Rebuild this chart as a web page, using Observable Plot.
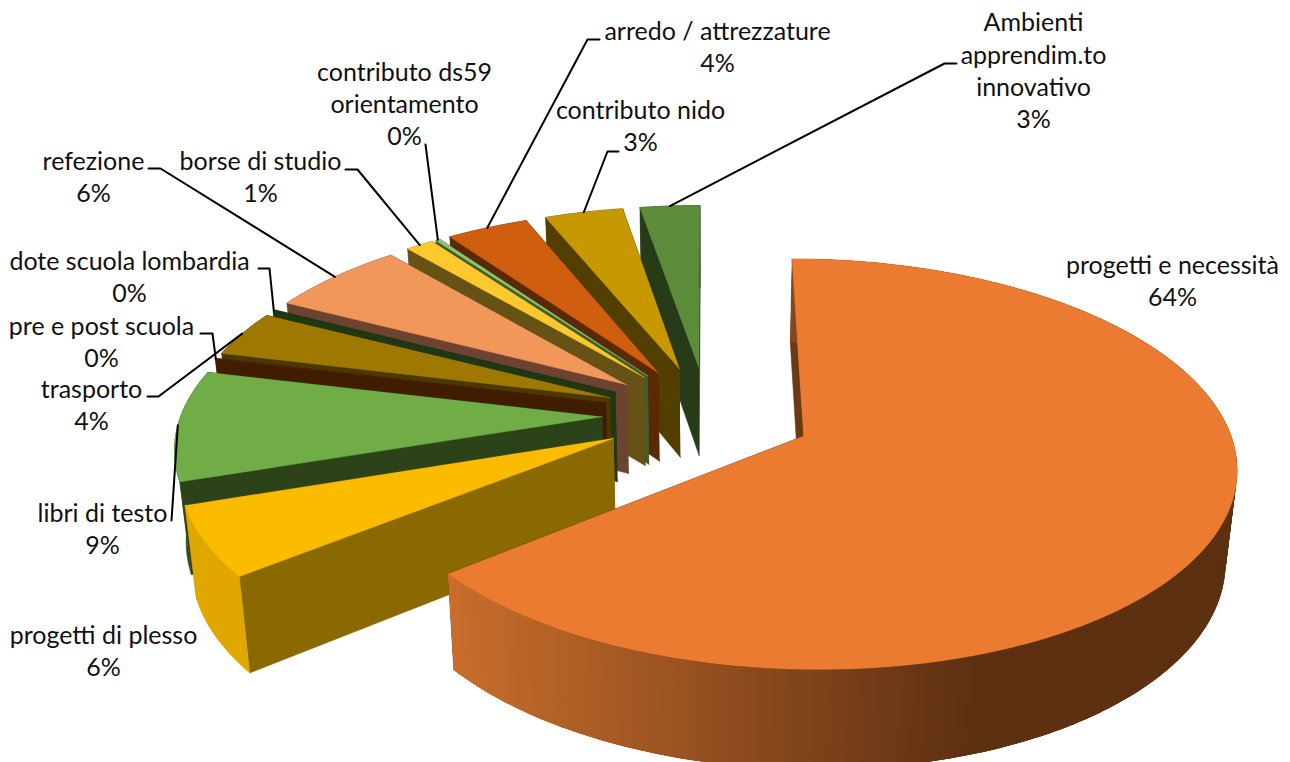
<!DOCTYPE html>
<html><head><meta charset="utf-8">
<script src="https://cdn.jsdelivr.net/npm/d3@7"></script>
<script src="https://cdn.jsdelivr.net/npm/@observablehq/plot@0.6"></script>
<style>html,body{margin:0;padding:0;background:#fff}svg{display:block}</style>
</head><body><div id="chart"></div>
<script>
// ---- data (clockwise from the top of the pie)
const categories = ["progetti e necessità","progetti di plesso","libri di testo","pre e post scuola","trasporto","dote scuola lombardia","refezione","borse di studio","contributo ds59\norientamento","arredo / attrezzature","contributo nido","Ambienti\napprendim.to\ninnovativo"];
const shares = [64.25,5.6,8.9,0.1,3.7,0.1,6.1,1.25,0.2,3.65,3.49,2.66];

// ---- style
const topColors  = ["#EA7B31","#FBBC00","#70AD47","#4A2200","#9E7800","#1F3813","#F1975A","#FFC92D","#8FC56C","#CF5F0E","#C89800","#5C8C3A"];
const sideColors = ["#6B3A15","#8A6900","#2C431A","#401C00","#4A3800","#1F3813","#6B4330","#675216","#3F5E2B","#5A2A06","#523F00","#263B16"];
const rimColors  = [null,"#DFA700","#2C431A","#401C00","#4A3800","#1F3813","#6B4330","#675216","#3F5E2B","#5A2A06","#523F00","#263B16"];

// ---- label layout: text centre, leader stub start and elbow (null = none)
const labelX = [1172,103,102,101,91,129,93,260,404,717,640,1033];
const labelY = [279,649.5,527,340,403,275,175,175,102,45,124.5,69];
const stubX  = [null,null,null,200,147,258,148,345,null,599,618,956];
const elbowX = [null,null,171,212,158,269,160,357,425,587,607,944];
const elbowY = [null,null,520,333,396,268,168,169,144,39,151,63];

// ---- projection of the exploded 3D pie
const W = 1290, H = 762;
const cx = 707, cy = 414, a = 421, b = 195.5, p = 0.135, explode = 0.25, thick = 90, shrink = 0.978;
const total = d3.sum(shares);
const rad = d => d * Math.PI / 180;
function top3(X, Y){ const w = 1 + p * Y; return [cx + a * X / w, cy - b * Y / w, w]; }
function bot3(X, Y){ const [x, y, w] = top3(X, Y); return [cx + (x - cx) * shrink, cy + (y - cy) * shrink + thick / w]; }

let acc = 0;
const slices = shares.map((v, i) => {
  const s = acc / total * 360; acc += v; const e = acc / total * 360; const m = (s + e) / 2;
  return {i, v, s, e, ox: explode * Math.sin(rad(m)), oy: explode * Math.cos(rad(m))};
});
const rimPt = (sl, t) => [sl.ox + Math.sin(rad(t)), sl.oy + Math.cos(rad(t))];
const bigRim = d3.interpolateRgb("#C96E2C", "#5E3012");

const polys = [], gradient = [], bigTop = []; let pid = 0;
function add(list, pts, color){ pid++; for (const [x, y] of pts) list.push({id: pid, x, y, color}); }
const order = [11,10,9,8,7,6,5,4,3,2,1,0];
for (const i of order) {
  const sl = slices[i];
  const n = Math.max(2, Math.ceil(sl.e - sl.s));
  const ts = d3.range(n + 1).map(k => sl.s + (sl.e - sl.s) * k / n);
  const A = [sl.ox, sl.oy], S = rimPt(sl, sl.s), E = rimPt(sl, sl.e);
  const rim = ts.map(t => rimPt(sl, t));
  add(polys, [top3(...A), top3(...E), bot3(...E), bot3(...A)], sideColors[i]);
  add(polys, [top3(...A), top3(...S), bot3(...S), bot3(...A)], sideColors[i]);
  if (i === 0) {
    // painted from the far right end towards the left, each piece reaching under the next
    for (let k = 0; k < n; k++) {
      const far = Math.min(n, k + 3);
      const q = [...rim.slice(k, far + 1).map(r => top3(...r)), ...rim.slice(k, far + 1).reverse().map(r => bot3(...r))];
      const t = Math.max(0, Math.min(1, (q[0][0] - 447) / (978 - 447)));
      add(gradient, q, bigRim(t));
    }
    add(bigTop, [top3(...A), ...rim.map(r => top3(...r))], topColors[i]);
  } else {
    add(polys, [...rim.map(r => top3(...r)), ...rim.slice().reverse().map(r => bot3(...r))], rimColors[i]);
    add(polys, [top3(...A), ...rim.map(r => top3(...r))], topColors[i]);
  }
}

// ---- leaders and labels
const leaders = [];
slices.forEach(sl => {
  const i = sl.i; if (elbowX[i] == null) return;
  const [x, y] = top3(...rimPt(sl, (sl.s + sl.e) / 2));
  if (stubX[i] != null) leaders.push({id: i, x: stubX[i], y: elbowY[i]});
  leaders.push({id: i, x: elbowX[i], y: elbowY[i]}, {id: i, x, y});
});
const labels = slices.map(sl => ({
  text: categories[sl.i] + "\n" + Math.round(sl.v) + "%", x: labelX[sl.i], y: labelY[sl.i]
}));

const chart = Plot.plot({
  width: W, height: H, margin: 0,
  x: {domain: [0, W], range: [0, W], axis: null},
  y: {domain: [0, H], range: [0, H], axis: null},
  color: {type: "identity"},
  marks: [
    Plot.line(polys, {x: "x", y: "y", z: "id", fill: "color", stroke: "color", strokeWidth: 0.6, curve: "linear"}),
    Plot.line(gradient, {x: "x", y: "y", z: "id", fill: "color", curve: "linear", clip: true}),
    Plot.line(bigTop, {x: "x", y: "y", z: "id", fill: "color", stroke: "color", strokeWidth: 0.6, curve: "linear"}),
    Plot.line(leaders, {x: "x", y: "y", z: "id", stroke: "#000", strokeWidth: 2, curve: "linear"}),
    Plot.text(labels, {x: "x", y: "y", text: "text", fill: "#111", fontSize: 25, lineHeight: 1.29, fontFamily: "Lato", textAnchor: "middle"})
  ]
});
document.getElementById("chart").append(chart);
</script></body></html>
